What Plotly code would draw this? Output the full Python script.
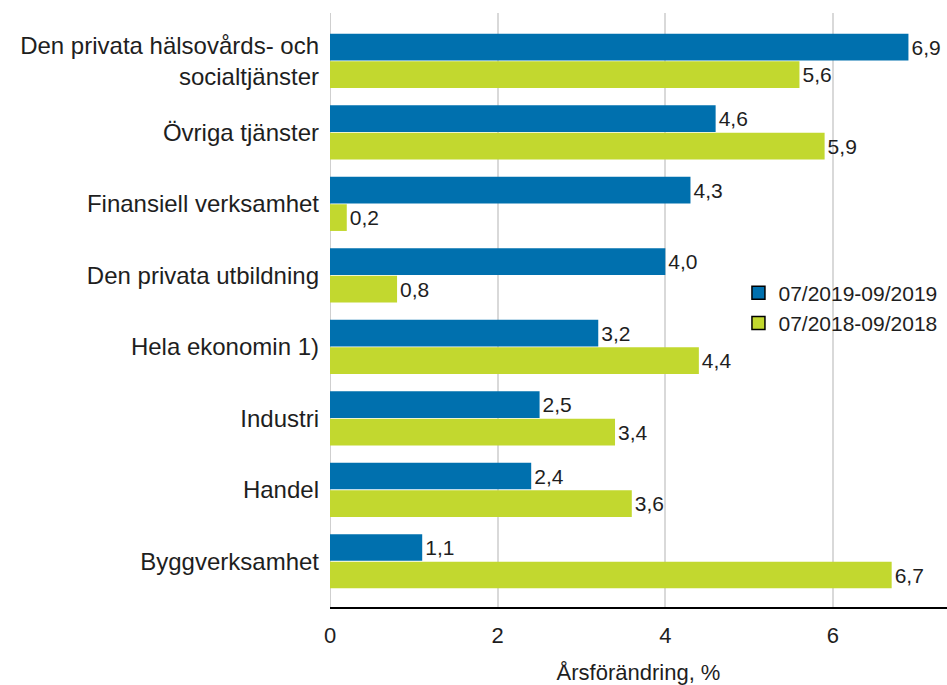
import plotly.graph_objects as go

categories = [
    "Den privata hälsovårds- och<br>socialtjänster",
    "Övriga tjänster",
    "Finansiell verksamhet",
    "Den privata utbildning",
    "Hela ekonomin 1)",
    "Industri",
    "Handel",
    "Byggverksamhet",
]
series_2019 = [6.9, 4.6, 4.3, 4.0, 3.2, 2.5, 2.4, 1.1]
series_2018 = [5.6, 5.9, 0.2, 0.8, 4.4, 3.4, 3.6, 6.7]
name_2019 = "07/2019-09/2019"
name_2018 = "07/2018-09/2018"
x_title = "Årsförändring, %"
x_ticks = [0, 2, 4, 6]

BLUE = "#0070ae"
GREEN = "#c2d82f"
FONT = "Liberation Sans, Arial, sans-serif"
TXT = "#1e1e1e"

fig = go.Figure()
for name, vals, col in [(name_2019, series_2019, BLUE), (name_2018, series_2018, GREEN)]:
    fig.add_trace(go.Bar(
        y=categories, x=vals, orientation="h", name=name,
        marker=dict(color=col, line=dict(width=0)),
        text=vals, texttemplate="%{x:.1f}", textposition="outside",
        textfont=dict(size=21, color=TXT), cliponaxis=False,
        showlegend=False,
    ))
    fig.add_trace(go.Scatter(
        x=[None], y=[None], mode="markers", name=name,
        marker=dict(symbol="square", size=13, color=col, line=dict(color="black", width=1.5)),
    ))

fig.update_layout(
    width=947, height=685,
    margin=dict(l=330, r=0, t=13, b=78),
    paper_bgcolor="white", plot_bgcolor="white",
    separators=", ",
    barmode="group", bargap=0.23, bargroupgap=0.03,
    font=dict(family=FONT, color=TXT),
    legend=dict(x=0.662, y=0.563, xanchor="left", yanchor="top",
                font=dict(size=21, color=TXT), bgcolor="rgba(0,0,0,0)",
                itemwidth=30, tracegroupgap=0),
    xaxis=dict(range=[0, 7.36], tickvals=x_ticks, showgrid=True, gridcolor="#d9d9d9",
               gridwidth=1.5, zeroline=False, showline=True, linecolor="black", linewidth=2,
               tickfont=dict(size=22, color=TXT), ticklabelstandoff=8, automargin=False,
               title=dict(text=x_title, font=dict(size=22, color=TXT), standoff=18)),
    yaxis=dict(range=[7.64, -0.67], showgrid=False, zeroline=False, showline=False,
               tickfont=dict(size=24, color=TXT), ticklabelstandoff=10, automargin=False),
)
fig.add_shape(type="line", xref="x", yref="paper", x0=0, x1=0, y0=0, y1=1,
              line=dict(color="#cfcfcf", width=2), layer="below")

fig.write_html("out.html", config={"displayModeBar": False},
               post_script="document.body.style.margin='0';document.body.style.overflow='hidden';")
